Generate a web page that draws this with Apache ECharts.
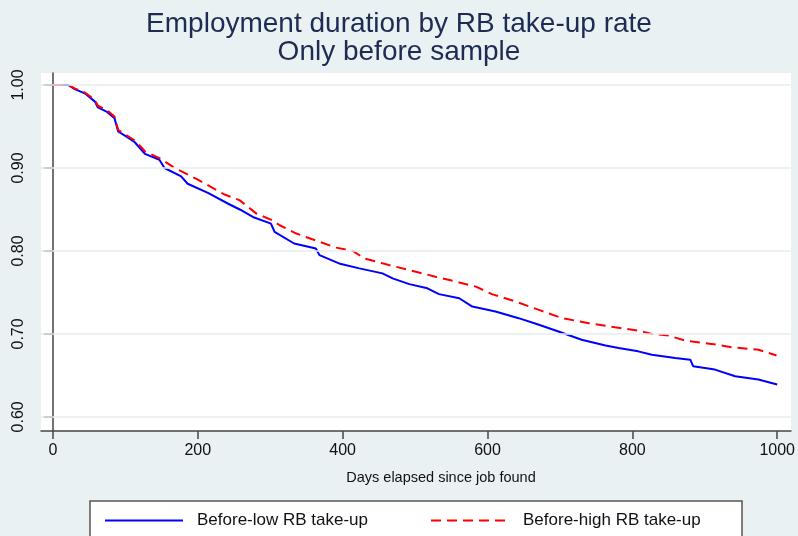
<!DOCTYPE html>
<html>
<head>
<meta charset="utf-8">
<script src="https://cdn.jsdelivr.net/npm/echarts@6/dist/echarts.min.js"></script>
<style>
  html, body { margin: 0; padding: 0; background: #e9f1f3; }
  #chart { width: 798px; height: 536px; }
</style>
</head>
<body>
<div id="chart"></div>
<script>
// Kaplan-Meier style survival estimates: share still employed by days since job found
const lowDays = [0, 21, 30, 44, 58, 62, 74, 85, 90, 101, 113, 122, 127, 147, 154, 177, 186, 214, 244, 258,
  276, 301, 306, 333, 363, 368, 395, 423, 455, 469, 492, 517, 533, 561, 579, 611, 643, 671, 698, 730,
  763, 781, 808, 827, 859, 880, 884, 914, 942, 974, 1000];
const lowSurv = [1.000, 1.000, 0.995, 0.990, 0.980, 0.973, 0.968, 0.960, 0.944, 0.938, 0.931, 0.922, 0.917, 0.910, 0.900, 0.890, 0.881, 0.870, 0.856, 0.850,
  0.841, 0.833, 0.823, 0.809, 0.803, 0.795, 0.785, 0.779, 0.773, 0.767, 0.760, 0.755, 0.748, 0.743, 0.733, 0.727, 0.719, 0.711, 0.703, 0.693,
  0.686, 0.683, 0.679, 0.675, 0.671, 0.669, 0.661, 0.657, 0.649, 0.645, 0.639];

const highDays = [0, 21, 30, 44, 58, 62, 74, 85, 90, 101, 113, 122, 127, 147, 168, 200, 237, 258, 281, 303,
  313, 336, 368, 391, 414, 430, 464, 501, 528, 538, 561, 584, 606, 639, 671, 703, 740, 776, 808, 827,
  850, 873, 909, 937, 974, 999];
const highSurv = [1.000, 1.000, 0.996, 0.991, 0.982, 0.975, 0.970, 0.962, 0.946, 0.940, 0.933, 0.925, 0.920, 0.912, 0.900, 0.886, 0.868, 0.861, 0.845, 0.837,
  0.831, 0.821, 0.811, 0.804, 0.800, 0.791, 0.783, 0.775, 0.769, 0.767, 0.762, 0.757, 0.748, 0.739, 0.729, 0.719, 0.713, 0.708, 0.704, 0.700,
  0.698, 0.692, 0.688, 0.684, 0.681, 0.674];

const xTicks = [0, 200, 400, 600, 800, 1000];
const yTicks = [0.6, 0.7, 0.8, 0.9, 1.0];

const seriesNames = ['Before-low RB take-up', 'Before-high RB take-up'];
const titleText = 'Employment duration by RB take-up rate\nOnly before sample';
const xName = 'Days elapsed since job found';

const FONT = '"Liberation Sans", Arial, Helvetica, sans-serif';
const AXIS_COLOR = '#454545';

const zip = (xs, ys) => xs.map((x, i) => [x, ys[i]]);

const chart = echarts.init(document.getElementById('chart'), null, { renderer: 'canvas' });

chart.setOption({
  backgroundColor: '#e9f1f3',
  animation: false,
  textStyle: { fontFamily: FONT },
  title: {
    text: titleText,
    left: 'center',
    top: 5,
    textStyle: {
      fontFamily: FONT,
      fontSize: 28,
      lineHeight: 28,
      fontWeight: 'normal',
      color: '#1e2b52'
    }
  },
  graphic: [{
    type: 'rect',
    shape: { x: 90, y: 501, width: 652, height: 60 },
    style: { fill: '#ffffff', stroke: '#555555', lineWidth: 1.5 },
    z: 0,
    silent: true
  }],
  legend: {
    left: 99,
    top: 507,
    itemWidth: 78,
    itemHeight: 16,
    itemGap: 62,
    data: seriesNames,
    itemStyle: { opacity: 0 },
    textStyle: {
      fontFamily: FONT,
      fontSize: 17,
      color: '#111111',
      padding: [0, 0, 0, 9]
    },
    z: 5
  },
  grid: {
    left: 41,
    right: 5,
    top: 73,
    bottom: 105,
    show: true,
    backgroundColor: '#ffffff',
    borderWidth: 0
  },
  xAxis: {
    type: 'value',
    min: -16.5,
    max: 1019,
    name: xName,
    nameLocation: 'middle',
    nameGap: 39,
    nameTextStyle: { fontFamily: FONT, fontSize: 14.5, color: '#111111', padding: [0, 0, 0, 50] },
    axisLine: { show: true, onZero: false, lineStyle: { color: AXIS_COLOR, width: 1.5 } },
    axisTick: { show: true, length: 8, customValues: xTicks, lineStyle: { color: AXIS_COLOR, width: 1.5 } },
    axisLabel: {
      customValues: xTicks,
      margin: 12,
      fontSize: 16,
      color: '#111111',
      fontFamily: FONT,
      formatter: v => String(Math.round(v))
    },
    splitLine: { show: false }
  },
  yAxis: {
    type: 'value',
    min: 0.583,
    max: 1.0145,
    axisLine: { show: true, lineStyle: { color: AXIS_COLOR, width: 1.5 } },
    axisTick: { show: true, length: 9, customValues: yTicks, lineStyle: { color: AXIS_COLOR, width: 1.5 } },
    axisLabel: {
      customValues: yTicks,
      rotate: 90,
      margin: 14,
      fontSize: 16,
      color: '#111111',
      fontFamily: FONT,
      formatter: v => v.toFixed(2)
    },
    splitLine: { show: false }
  },
  series: [
    {
      // horizontal reference lines at the labelled survival levels
      type: 'line',
      data: [],
      silent: true,
      z: 1,
      markLine: {
        silent: true,
        symbol: 'none',
        label: { show: false },
        lineStyle: { color: '#e6eef1', width: 1.5, type: 'solid' },
        data: yTicks.map(v => ({ yAxis: v }))
      }
    },
    {
      name: seriesNames[0],
      type: 'line',
      data: zip(lowDays, lowSurv),
      symbol: 'none',
      showSymbol: false,
      z: 3,
      lineStyle: { color: '#0000ff', width: 2 },
      itemStyle: { color: '#0000ff' }
    },
    {
      name: seriesNames[1],
      type: 'line',
      data: zip(highDays, highSurv),
      symbol: 'none',
      showSymbol: false,
      z: 4,
      lineStyle: { color: '#ff0000', width: 2, type: [10, 6] },
      itemStyle: { color: '#ff0000' }
    }
  ]
});
</script>
</body>
</html>
